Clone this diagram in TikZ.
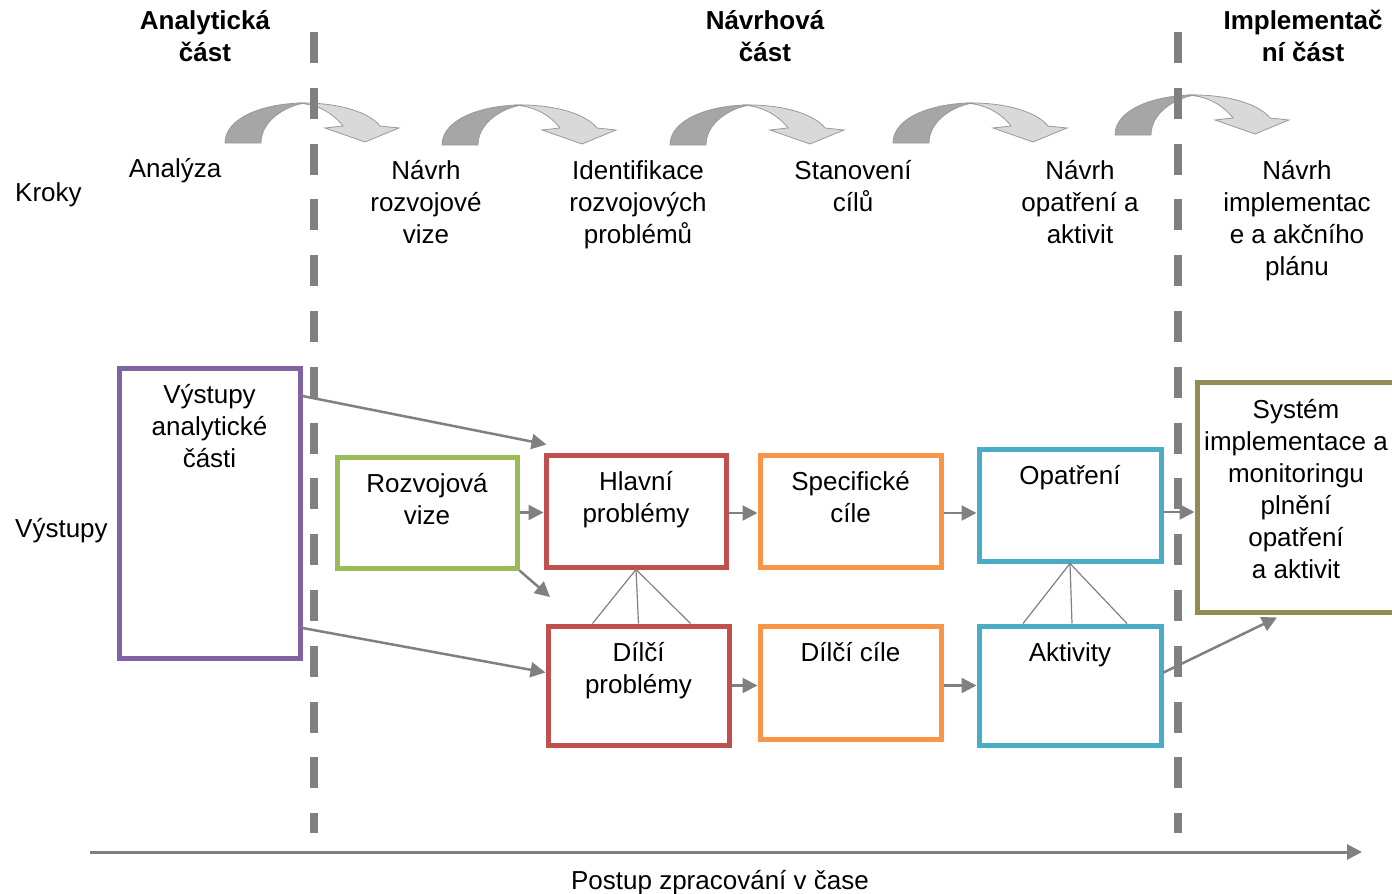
\documentclass[tikz,border=0pt]{standalone}
\usepackage{fontspec}
\setmainfont{Liberation Sans}
\usepackage{tikz}
\usetikzlibrary{positioning}
\usetikzlibrary{calc}
\usetikzlibrary{arrows.meta}

\definecolor{linegray}{HTML}{808080}
\definecolor{arcdark}{HTML}{A6A6A6}
\definecolor{arclight}{HTML}{D9D9D9}
\definecolor{boxpurple}{HTML}{8064A2}
\definecolor{boxgreen}{HTML}{9BBB59}
\definecolor{boxred}{HTML}{C0504D}
\definecolor{boxorange}{HTML}{F79646}
\definecolor{boxblue}{HTML}{4BACC6}
\definecolor{boxolive}{HTML}{948A54}

\begin{document}
\begin{tikzpicture}[
    x=1pt, y=-1pt,
    every node/.style={font=\fontsize{26}{32}\selectfont, inner sep=0pt},
    txt/.style={align=center, anchor=base},
    head/.style={txt, font=\fontsize{26}{32}\selectfont\bfseries},
    outbox/.style={draw=#1, line width=5pt, fill=white, minimum width=181, minimum height=112},
    flow/.style={-{Triangle[length=15pt,width=15pt]}, linegray, line width=2.5pt},
    tie/.style={linegray, line width=1.2pt},
    phase/.style={linegray, line width=8pt, dash pattern=on 31pt off 24.8pt},
]

    \newcommand*{\steparrow}[1]{%
        \begin{scope}[shift={#1}]
            \filldraw[fill=arclight, draw=linegray!80, line width=.8pt]
                (72,-40) .. controls (115,-41) and (145,-30) .. (155,-17)
                -- (174,-15) -- (140,-1) -- (100,-15) -- (118,-17)
                .. controls (108,-30) and (92,-39) .. (72,-40) -- cycle;
            \filldraw[fill=arcdark, draw=linegray!80, line width=.8pt]
                (0,0) .. controls (0,-25) and (38,-40) .. (80,-40)
                .. controls (60,-37) and (36,-22) .. (36,0) -- cycle;
        \end{scope}}

    \useasboundingbox (0,0) rectangle (1392,894);

    % Steps
    \steparrow{(225,143)}
    \steparrow{(442,145)}
    \steparrow{(670,145)}
    \steparrow{(893,143)}
    \steparrow{(1115,135)}

    % Phases
    \draw[phase] (314,32) -- (314,833);
    \draw[phase] (1178,32) -- (1178,833);

    % (base = last line)
    \node[head] (analytic) at (205,61) {Analytická\\část};
    \node[head] (design) at (765,61) {Návrhová\\část};
    \node[head] (implement) at (1303,61) {Implementač\\ní část};

    \node[anchor=base west] (kroky) at (15,201) {Kroky};
    \node[anchor=base west] (vystupy) at (15,537) {Výstupy};

    \node[txt] (s1) at (175,177) {Analýza};
    \node[txt] (s2) at (426,243) {Návrh\\rozvojové\\vize};
    \node[txt] (s3) at (638,243) {Identifikace\\rozvojových\\problémů};
    \node[txt] (s4) at (853,211) {Stanovení\\cílů};
    \node[txt] (s5) at (1080,243) {Návrh\\opatření a\\aktivit};
    \node[txt] (s6) at (1297,275) {Návrh\\implementac\\e a akčního\\plánu};

    % Outputs
    \node[outbox=boxpurple, minimum height=290] (vys) at (209.5,513) {};
    \node[outbox=boxgreen, minimum width=180, minimum height=111] (vize) at (427,512.5) {};
    \node[outbox=boxred, minimum width=180] (hlavni) at (636,511) {};
    \node[outbox=boxred, minimum height=119] (dilciP) at (638.5,685.5) {};
    \node[outbox=boxorange] (specC) at (850.5,511) {};
    \node[outbox=boxorange, minimum height=113] (dilciC) at (850.5,682.5) {};
    \node[outbox=boxblue, minimum width=182] (opatreni) at (1070,505) {};
    \node[outbox=boxblue, minimum width=182, minimum height=119] (aktivity) at (1070,685.5) {};
    \node[outbox=boxolive, minimum width=198, minimum height=230] (system) at (1296,497) {};

    \node[txt] (vysT) at ([yshift=-102pt]vys.north) {Výstupy\\analytické\\části};
    \node[txt] (vizeT) at ([yshift=-70pt]vize.north) {Rozvojová\\vize};
    \node[txt] (hlavniT) at ([yshift=-70pt]hlavni.north) {Hlavní\\problémy};
    \node[txt] (dilciPT) at ([yshift=-70pt]dilciP.north) {Dílčí\\problémy};
    \node[txt] (specCT) at ([yshift=-70pt]specC.north) {Specifické\\cíle};
    \node[txt] (dilciCT) at ([yshift=-38pt]dilciC.north) {Dílčí cíle};
    \node[txt] (opatreniT) at ([yshift=-38pt]opatreni.north) {Opatření};
    \node[txt] (aktivityT) at ([yshift=-38pt]aktivity.north) {Aktivity};
    \node[txt] (systemT) at ([yshift=-199pt]system.north) {Systém\\implementace a\\monitoringu\\plnění\\opatření\\a aktivit};

    % Links
    \coordinate (vizeEnd) at (550,597);
    \draw[flow] ([yshift=117pt]vys.east) -- ([shift={(3pt,8pt)}]hlavni.north west);
    \draw[flow] ([yshift=-115pt]vys.east) -- ([yshift=13pt]dilciP.west);
    \draw[flow] (vize.east) -- (vize.east -| hlavni.west);
    \draw[flow] (vize.south east) -- (vizeEnd);
    \draw[flow] ([yshift=-2pt]hlavni.east) -- ([yshift=-2pt]specC.west);
    \draw[flow] (dilciP.east) -- (dilciP.east -| dilciC.west);
    \draw[flow] ([yshift=-2pt]specC.east) -- ([yshift=-2pt]specC.east -| opatreni.west);
    \draw[flow] ([yshift=-3pt]dilciC.east) -- ([yshift=-3pt]dilciC.east -| aktivity.west);
    \draw[flow] ([yshift=-7pt]opatreni.east) -- ([yshift=-7pt]opatreni.east -| system.west);
    \draw[flow] ([yshift=13pt]aktivity.east) -- ([shift={(-19pt,-3pt)}]system.south);

    \foreach \dx in {-46,0,52}
        \draw[tie] (hlavni.south) -- ([xshift=\dx pt]dilciP.north);
    \foreach \dx in {-47,2,57}
        \draw[tie] (opatreni.south) -- ([xshift=\dx pt]aktivity.north);

    % Time axis
    \coordinate (tStart) at (90,852);
    \coordinate (tEnd) at (1362,852);
    \draw[flow, line width=3pt] (tStart) -- (tEnd);
    \node[txt] (postup) at (720,889) {Postup zpracování v čase};

\end{tikzpicture}
\end{document}
